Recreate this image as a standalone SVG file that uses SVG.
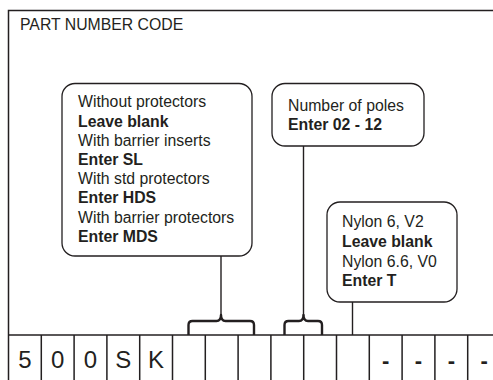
<svg xmlns="http://www.w3.org/2000/svg" width="493" height="380" viewBox="0 0 493 380">
<style>
.fr{fill:none;stroke:#231f20;stroke-width:1.5}
.bx{fill:#fff;stroke:#231f20;stroke-width:1.3}
.ln{fill:none;stroke:#231f20;stroke-width:1.4}
.br{fill:none;stroke:#231f20;stroke-width:2.4;stroke-linejoin:round}
.t{font-family:"Liberation Sans",Arial,sans-serif;font-size:15.8px;fill:#231f20}
.b{font-weight:bold}
.c{font-family:"Liberation Sans",Arial,sans-serif;font-size:24px;fill:#231f20;text-anchor:middle}
.d{font-family:"Liberation Sans",Arial,sans-serif;font-size:22px;font-weight:bold;fill:#231f20;text-anchor:middle}
</style>
<rect width="493" height="380" fill="#fff"/>
<g id="frame">
<path class="fr" d="M8.5,380 V10.5 H493"/>
<path class="fr" d="M8.5,335 H493"/>
<path class="fr" d="M41.3,335V380 M74.1,335V380 M106.9,335V380 M139.7,335V380 M172.5,335V380 M205.3,335V380 M238.1,335V380 M270.9,335V380 M303.7,335V380 M336.5,335V380 M369.3,335V380 M402.1,335V380 M434.9,335V380 M467.7,335V380"/>
<text class="t" x="20" y="30">PART NUMBER CODE</text>
</g>
<g id="code">
<text class="c" x="24.9" y="368">5</text>
<text class="c" x="57.7" y="368">0</text>
<text class="c" x="90.5" y="368">0</text>
<text class="c" x="123.3" y="368">S</text>
<text class="c" x="156.1" y="368">K</text>
<text class="d" x="385.7" y="368">-</text>
<text class="d" x="418.5" y="368">-</text>
<text class="d" x="451.3" y="368">-</text>
<text class="d" x="484.1" y="368">-</text>
</g>
<g id="connectors">
<path class="ln" d="M221,256 V316"/>
<path class="br" d="M188.5,335 V325 Q188.5,321 192.5,321 H216.5 Q221,321 221,315 Q221,321 225.5,321 H250 Q254,321 254,325 V335"/>
<path class="ln" d="M303.5,146 V316"/>
<path class="br" d="M284.5,335 V325 Q284.5,321 288.5,321 H299 Q303.5,321 303.5,315 Q303.5,321 308,321 H318 Q322,321 322,325 V335"/>
<path class="ln" d="M352.5,302 V335"/>
</g>
<g id="box-protectors">
<rect class="bx" x="62" y="83.5" width="190" height="172.5" rx="13"/>
<text class="t" x="78" y="107">Without protectors</text>
<text class="t b" x="78" y="126.5">Leave blank</text>
<text class="t" x="78" y="145.7">With barrier inserts</text>
<text class="t b" x="78" y="165">Enter SL</text>
<text class="t" x="78" y="184.2">With std protectors</text>
<text class="t b" x="78" y="203.4">Enter HDS</text>
<text class="t" x="78" y="222.6">With barrier protectors</text>
<text class="t b" x="78" y="241.8">Enter MDS</text>
</g>
<g id="box-poles">
<rect class="bx" x="272" y="83.5" width="152" height="62.5" rx="13"/>
<text class="t" x="288" y="111">Number of poles</text>
<text class="t b" x="288" y="130.2">Enter 02 - 12</text>
</g>
<g id="box-material">
<rect class="bx" x="327" y="202" width="130" height="100" rx="13"/>
<text class="t" x="342" y="227">Nylon 6, V2</text>
<text class="t b" x="342" y="246.5">Leave blank</text>
<text class="t" x="342" y="266.5">Nylon 6.6, V0</text>
<text class="t b" x="342" y="286">Enter T</text>
</g>
</svg>
